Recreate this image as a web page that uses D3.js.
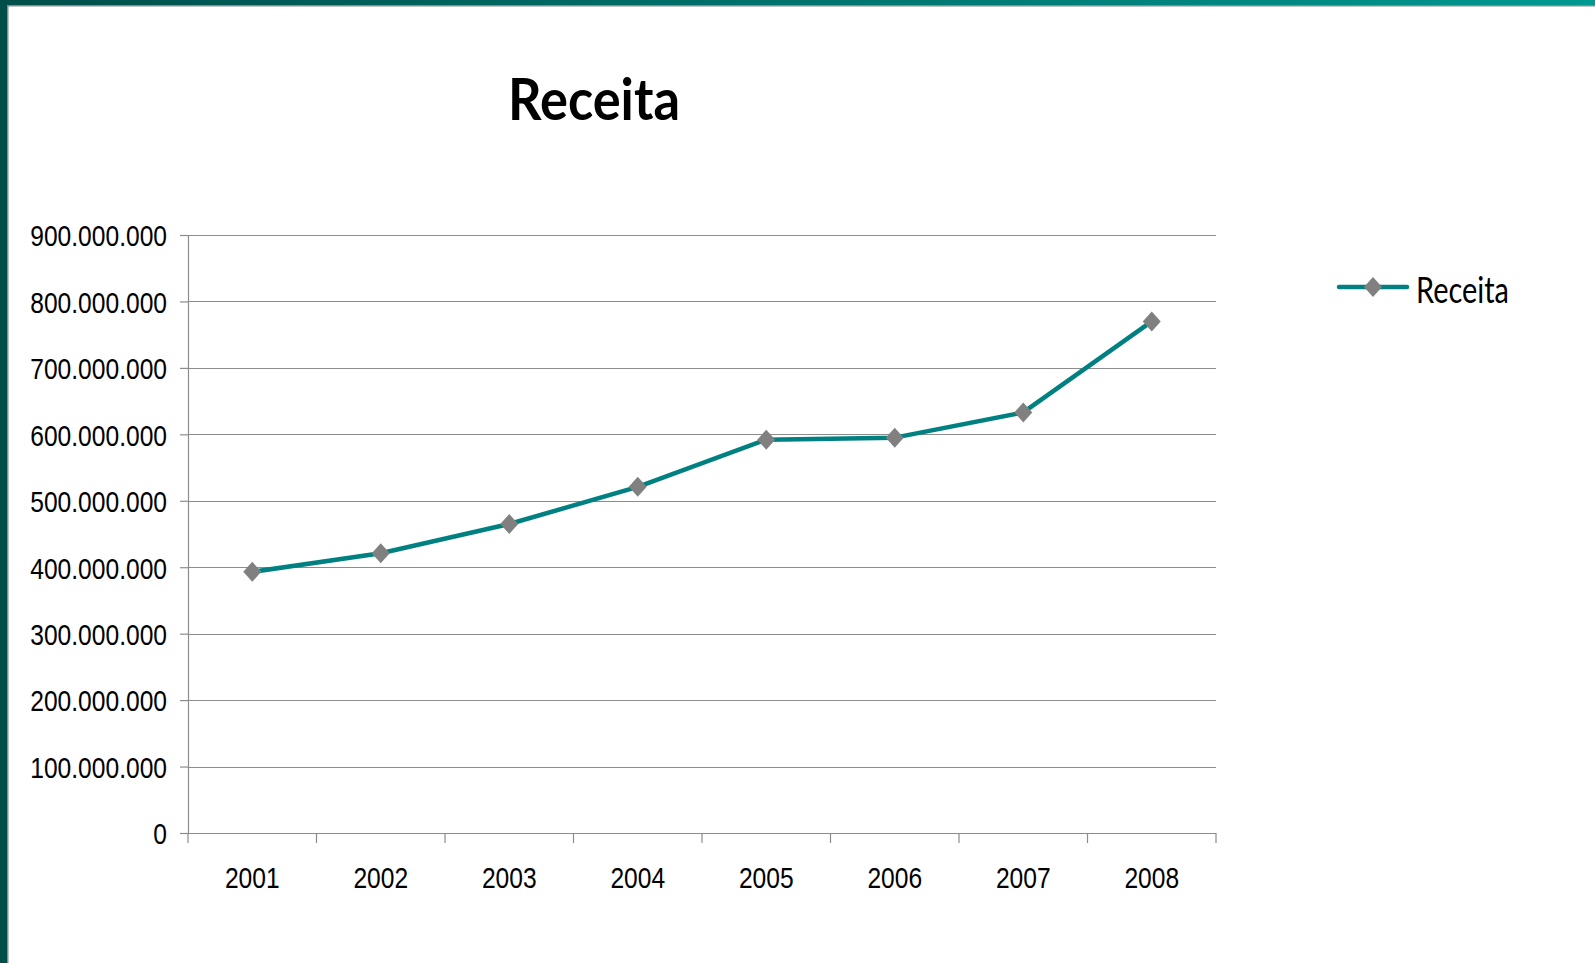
<!DOCTYPE html>
<html>
<head>
<meta charset="utf-8">
<script src="https://cdn.jsdelivr.net/npm/d3@7"></script>
<style>
  html, body { margin: 0; padding: 0; background: #fff; overflow: hidden; }
  svg { display: block; }
</style>
</head>
<body>
<svg id="chart" width="1595" height="963"></svg>
<script>
// ---- data ----
const categories = ["2001", "2002", "2003", "2004", "2005", "2006", "2007", "2008"];
const receita = [393000000, 421000000, 465000000, 521000000, 592000000, 595000000, 633000000, 770000000];
const yTicks = [0, 100000000, 200000000, 300000000, 400000000, 500000000, 600000000, 700000000, 800000000, 900000000];
const seriesName = "Receita";
const chartTitle = "Receita";

(function () {
const W = 1595, H = 963;
const svg = d3.select("#chart");
const narrow = 0.82;

// frame decoration
const defs = svg.append("defs");
const grad = defs.append("linearGradient").attr("id", "topGrad").attr("x1", "0%").attr("x2", "100%");
grad.append("stop").attr("offset", "0%").attr("stop-color", "#004e4a");
grad.append("stop").attr("offset", "100%").attr("stop-color", "#009890");
svg.append("rect").attr("x", 0).attr("y", 0).attr("width", W).attr("height", 5).attr("fill", "url(#topGrad)");
svg.append("rect").attr("x", 7).attr("y", 5).attr("width", W - 7).attr("height", 1.5).attr("fill", "#8a8a8a");
svg.append("rect").attr("x", 0).attr("y", 0).attr("width", 7).attr("height", H).attr("fill", "#004e4a");
svg.append("rect").attr("x", 7).attr("y", 5).attr("width", 1.5).attr("height", H).attr("fill", "#8a8a8a");

// plot area
const pLeft = 188, pRight = 1216, pTop = 235, pBottom = 833;
const x = d3.scaleBand().domain(categories).range([pLeft, pRight]);
const y = d3.scaleLinear().domain([0, 900000000]).range([pBottom, pTop]);

const fmt = v => d3.format(",")(v).replace(/,/g, ".");

// gridlines
svg.append("g").selectAll("line").data(yTicks.filter(d => d > 0)).join("line")
  .attr("x1", pLeft).attr("x2", pRight)
  .attr("y1", d => Math.round(y(d)) + 0.5).attr("y2", d => Math.round(y(d)) + 0.5)
  .attr("stroke", "#8c8c8c").attr("stroke-width", 1.2);

// y axis
const yAxis = svg.append("g").attr("transform", `translate(${pLeft},0)`)
  .call(d3.axisLeft(y).tickValues(yTicks).tickFormat(fmt).tickSize(8).tickPadding(14));
yAxis.select(".domain").attr("stroke", "#8c8c8c").attr("stroke-width", 1.2);
yAxis.selectAll(".tick line").attr("stroke", "#8c8c8c").attr("stroke-width", 1.2);
yAxis.selectAll("text").attr("font-family", "'Liberation Sans', Arial, sans-serif")
  .attr("font-size", 30).attr("fill", "#000").attr("dy", "0.36em")
  .attr("x", -21 / narrow).attr("transform", `scale(${narrow},1)`);

// x axis
const xAxis = svg.append("g").attr("transform", `translate(0,${pBottom})`)
  .call(d3.axisBottom(x).tickSize(0).tickPadding(0));
xAxis.select(".domain").remove();
xAxis.append("line").attr("x1", pLeft).attr("x2", pRight).attr("y1", 0.5).attr("y2", 0.5)
  .attr("stroke", "#8c8c8c").attr("stroke-width", 1.2);
xAxis.selectAll(".tick line").remove();
const bounds = categories.map(c => x(c)).concat([pRight]);
xAxis.append("g").selectAll("line").data(bounds).join("line")
  .attr("x1", d => d).attr("x2", d => d).attr("y1", 0).attr("y2", 10)
  .attr("stroke", "#8c8c8c").attr("stroke-width", 1.2);
xAxis.selectAll(".tick text").attr("font-family", "'Liberation Sans', Arial, sans-serif")
  .attr("font-size", 30).attr("fill", "#000").attr("y", 55).attr("dy", 0)
  .attr("transform", `scale(${narrow},1)`);

// line
const pts = categories.map((c, i) => ({ c, v: receita[i] }));
const line = d3.line().x(d => x(d.c) + x.bandwidth() / 2).y(d => y(d.v));
svg.append("path").datum(pts).attr("d", line)
  .attr("fill", "none").attr("stroke", "#008080").attr("stroke-width", 4.5)
  .attr("stroke-linejoin", "round").attr("stroke-linecap", "round");

// markers
const diamond = "M0,-10 L9,0 L0,10 L-9,0 Z";
svg.append("g").selectAll("path").data(pts).join("path")
  .attr("d", diamond)
  .attr("transform", d => `translate(${x(d.c) + x.bandwidth() / 2},${y(d.v)})`)
  .attr("fill", "#808080");

// title
svg.append("text").attr("x", 594).attr("y", 120).attr("text-anchor", "middle")
  .attr("font-family", "Lato, 'Open Sans', sans-serif").attr("font-weight", "bold")
  .attr("font-size", 57).attr("textLength", 172).attr("lengthAdjust", "spacingAndGlyphs")
  .attr("fill", "#000").text(chartTitle);

// legend
const lg = svg.append("g").attr("transform", "translate(1339,287)");
lg.append("line").attr("x1", 0).attr("x2", 68).attr("y1", 0).attr("y2", 0)
  .attr("stroke", "#008080").attr("stroke-width", 4.5).attr("stroke-linecap", "round");
lg.append("path").attr("d", diamond).attr("transform", "translate(34,0)").attr("fill", "#808080");
lg.append("text").attr("x", 77).attr("y", 16)
  .attr("font-family", "Lato, 'Open Sans', sans-serif").attr("font-size", 36)
  .attr("textLength", 93).attr("lengthAdjust", "spacingAndGlyphs")
  .attr("fill", "#000").text(seriesName);
})();
</script>
</body>
</html>
